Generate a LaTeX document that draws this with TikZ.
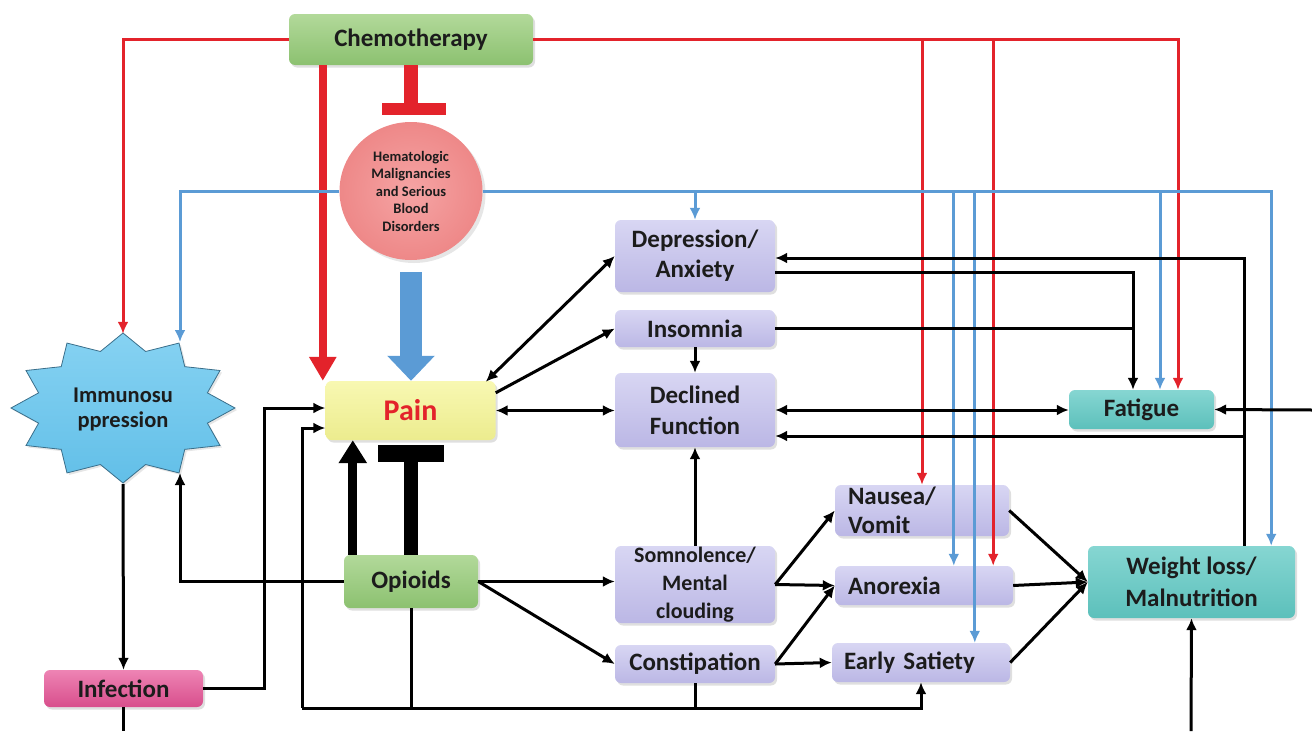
\documentclass[tikz,border=0pt]{standalone}
\usepackage{fontspec}
\setmainfont{Carlito}
\usetikzlibrary{arrows.meta,calc,shadows,shapes.geometric}

\definecolor{redln}{HTML}{E3232B}
\definecolor{bluln}{HTML}{5B9BD5}
\definecolor{grnT}{HTML}{B2D99A}
\definecolor{grnB}{HTML}{8CC170}
\definecolor{lavT}{HTML}{D8D6F3}
\definecolor{lavB}{HTML}{BBB7E5}
\definecolor{ylwT}{HTML}{F8F8B2}
\definecolor{ylwB}{HTML}{ECEC8E}
\definecolor{tealT}{HTML}{86D6D2}
\definecolor{tealB}{HTML}{5CC0BB}
\definecolor{pinkT}{HTML}{EE84B4}
\definecolor{pinkB}{HTML}{D84E8C}
\definecolor{hemI}{HTML}{F5A4A4}
\definecolor{hemO}{HTML}{EE8888}
\definecolor{starT}{HTML}{86D2F2}
\definecolor{starB}{HTML}{62BFE8}
\definecolor{starE}{HTML}{3A6E8A}
\definecolor{ink}{HTML}{1C1C1C}

\tikzset{
  box/.style={rounded corners=6pt, inner sep=0pt, align=center, text=ink,
    font=\bfseries\fontsize{25}{31}\selectfont,
    drop shadow={opacity=0.25, shadow xshift=2pt, shadow yshift=-2.5pt}},
  grnbox/.style={box, top color=grnT, bottom color=grnB},
  lavbox/.style={box, top color=lavT, bottom color=lavB},
  ylwbox/.style={box, top color=ylwT, bottom color=ylwB},
  tealbox/.style={box, top color=tealT, bottom color=tealB},
  pinkbox/.style={box, top color=pinkT, bottom color=pinkB},
  blk/.style={line width=3pt, draw=black},
  rdl/.style={line width=3pt, draw=redln},
  bll/.style={line width=3pt, draw=bluln},
}

\begin{document}
\begin{tikzpicture}[x=1pt,y=-1pt,>={Latex[length=12pt,width=11pt]}]
\useasboundingbox (0,0) rectangle (1312,731);

% ---------- nodes ----------
\node[grnbox, minimum width=244pt, minimum height=51pt] (chemo) at (411,39.5) {Chemotherapy};

\node[ellipse, minimum width=143pt, minimum height=138pt, inner sep=0pt,
      inner color=hemI, outer color=hemO, align=center, text=ink,
      font=\bfseries\fontsize{14.5}{17.5}\selectfont,
      drop shadow={opacity=0.2, shadow xshift=3pt, shadow yshift=-3pt}]
      (hema) at (411,191) {Hematologic\\Malignancies\\and Serious\\Blood\\Disorders};

% twelve-pointed starburst
\path[draw=starE, line width=0.8pt, top color=starT, bottom color=starB,
      drop shadow={opacity=0.2, shadow xshift=2pt, shadow yshift=-2pt}]
  (123,333) \foreach \k in {1,...,23} {
    -- ({123+112*(1-0.22*mod(\k,2))*cos(90+15*\k)}, {408-75*(1-0.22*mod(\k,2))*sin(90+15*\k)})
  } -- cycle;
\node[ellipse, minimum width=224pt, minimum height=150pt, inner sep=0pt, align=center,
      text=ink, font=\bfseries\fontsize{22.5}{25}\selectfont]
      (imm) at (123,409) {Immunosu\\ppression};

\node[ylwbox, minimum width=170pt, minimum height=59pt, text=redln,
      font=\bfseries\fontsize{30}{34}\selectfont] (pain) at (410.5,410.5) {Pain};
\node[grnbox, minimum width=134pt, minimum height=53pt] (opi) at (411,581.5) {Opioids};
\node[pinkbox, minimum width=159pt, minimum height=37pt] (inf) at (123.5,688.5) {Infection};

\node[lavbox, minimum width=160pt, minimum height=72pt, font=\bfseries\fontsize{25}{30}\selectfont] (dep) at (695,256) {Depression/\\Anxiety};
\node[lavbox, minimum width=160pt, minimum height=37pt] (ins) at (695,328.5) {Insomnia};
\node[lavbox, minimum width=160pt, minimum height=74pt] (dec) at (695,410) {Declined\\Function};
\node[lavbox, minimum width=160pt, minimum height=77pt, font=\bfseries\fontsize{22}{28}\selectfont] (som) at (695,584.5) {Somnolence/\\Mental\\clouding};
\node[lavbox, minimum width=160pt, minimum height=38pt] (con) at (695,664) {Constipation};

\node[lavbox, minimum width=174pt, minimum height=51pt, text width=148pt, align=left,
      font=\bfseries\fontsize{25}{29}\selectfont] (nau) at (922,510.5) {Nausea/\\Vomit};
\node[lavbox, minimum width=178pt, minimum height=39pt, text width=152pt, align=left] (ano) at (924,585.5) {Anorexia};
\node[lavbox, minimum width=178pt, minimum height=39pt, text width=154pt, align=left] (ear) at (921,662.5) {Early Satiety};

\node[tealbox, minimum width=145pt, minimum height=39pt] (fat) at (1141.5,409.5) {Fatigue};
\node[tealbox, minimum width=207pt, minimum height=72pt, font=\bfseries\fontsize{25}{32}\selectfont] (wgt) at (1191.5,582) {Weight loss/\\Malnutrition};

% ---------- helper points ----------
\coordinate (rEdge) at (1312,410);
\coordinate (bEdgeW) at (1191,731);
\coordinate (bEdgeI) at (123.5,731);
\coordinate (busL) at (302,708);
\coordinate (anoR) at ($(ano.north east)+(-20,0)$);
\coordinate (anoB) at ($(ano.north west)+(119,0)$);
\coordinate (earB) at ($(ear.north west)+(143,0)$);
\coordinate (fatB) at ($(fat.north)+(18.5,0)$);
\coordinate (fatR) at ($(fat.north)+(36.5,0)$);
\coordinate (fatK) at ($(fat.north)+(-8.5,0)$);
\coordinate (wgtB) at ($(wgt.north east)+(-24,0)$);
\coordinate (wgtK) at ($(wgt.north west)+(157,0)$);
\coordinate (immB) at ($(imm.center)+(57,-67)$);
\coordinate (immO) at ($(imm.center)+(57,64)$);
\coordinate (painIn1) at ($(pain.west)+(0,-2.5)$);
\coordinate (painIn2) at ($(pain.west)+(0,17.5)$);
\coordinate (decIn) at ($(dec.east)+(0,26)$);
\coordinate (rThick) at ($(chemo.south west)+(34,0)$);
\coordinate (opiUp) at ($(opi.north west)+(9,0)$);

% ---------- chemotherapy effects (red) ----------
\draw[rdl,->] (chemo.west) -| (imm.north);
\draw[rdl,->] (chemo.east) -| (fatR);
\draw[rdl,->] (chemo.east -| nau.north) -- (nau.north);
\draw[rdl,->] (chemo.east -| anoR) -- (anoR);
\draw[line width=8pt, redln, -{Triangle[width=26pt,length=24pt]}] (rThick) -- (rThick |- pain.north);
\draw[line width=14pt, redln] (chemo.south) -- ++(0,40);
\fill[redln] ($(chemo.south)+(-29,38)$) rectangle ($(chemo.south)+(35,50)$);

% ---------- disease effects (blue) ----------
\draw[bll,->] (hema.west) -| (immB);
\draw[bll,->] (hema.east) -| (wgtB);
\draw[bll,->] (hema.east -| dep.north) -- (dep.north);
\draw[bll,->] (hema.east -| anoB) -- (anoB);
\draw[bll,->] (hema.east -| earB) -- (earB);
\draw[bll,->] (hema.east -| fatB) -- (fatB);
\draw[line width=22pt, bluln, -{Triangle[width=46pt,length=25pt]}] ($(hema.south)+(0,12)$) -- (hema.south |- pain.north);

% ---------- opioids ----------
\draw[line width=9pt, -{Triangle[width=27pt,length=23pt]}] (opiUp) -- (opiUp |- pain.south);
\draw[line width=14pt] (opi.north) -- ++(0,-95);
\fill ($(opi.north)+(-33,-110)$) rectangle ($(opi.north)+(33,-93)$);
\draw[blk,->] (opi.west) -| (immO);
\draw[blk,->] (opi.east) -- (opi.east -| som.west);
\draw[blk,->] (opi.east) -- (con.west);
\draw[blk] (opi.south) -- (opi.south |- busL);
\draw[blk] (con.south) -- (con.south |- busL);
\draw[blk,->] (busL) |- (painIn2);
\draw[blk,->] (busL) -| (ear.south);

% ---------- immune branch ----------
\draw[blk,->] (imm.south) -- (inf.north);
\draw[blk] (inf.south) -- (bEdgeI);
\draw[blk,->] (inf.east) -- ++(61,0) |- (painIn1);

% ---------- pain and symptoms ----------
\draw[blk,<->] ($(pain.north east)+(-10,1)$) -- (dep.west);
\draw[blk,->] ($(pain.north east)+(0,12)$) -- (ins.west);
\draw[blk,<->] (pain.east) -- (pain.east -| dec.west);
\draw[blk,->] (ins.south) -- (dec.north);
\draw[blk,->] (som.north) -- (dec.south);
\draw[blk,<->] (dec.east) -- (dec.east -| fat.west);
\draw[blk,->] (wgtK) |- ($(dep.east)+(0,2)$);
\draw[blk,->] (wgtK |- decIn) -- (decIn);
\draw[blk,->] ($(dep.east)+(0,16)$) -| (fatK);
\draw[blk] (ins.east) -- (ins.east -| fatK);
\draw[blk,->] (rEdge) -- (fat.east);

% ---------- nutrition ----------
\draw[blk,->] (som.east) -- (nau.west);
\draw[blk,->] (som.east) -- (ano.west);
\draw[blk,->] (con.east) -- (ano.west);
\draw[blk,->] (con.east) -- (ear.west);
\draw[blk,->] (nau.east) -- (wgt.west);
\draw[blk,->] (ano.east) -- (wgt.west);
\draw[blk,->] (ear.east) -- (wgt.west);
\draw[blk,->] (bEdgeW) -- (wgt.south);
\end{tikzpicture}
\end{document}
